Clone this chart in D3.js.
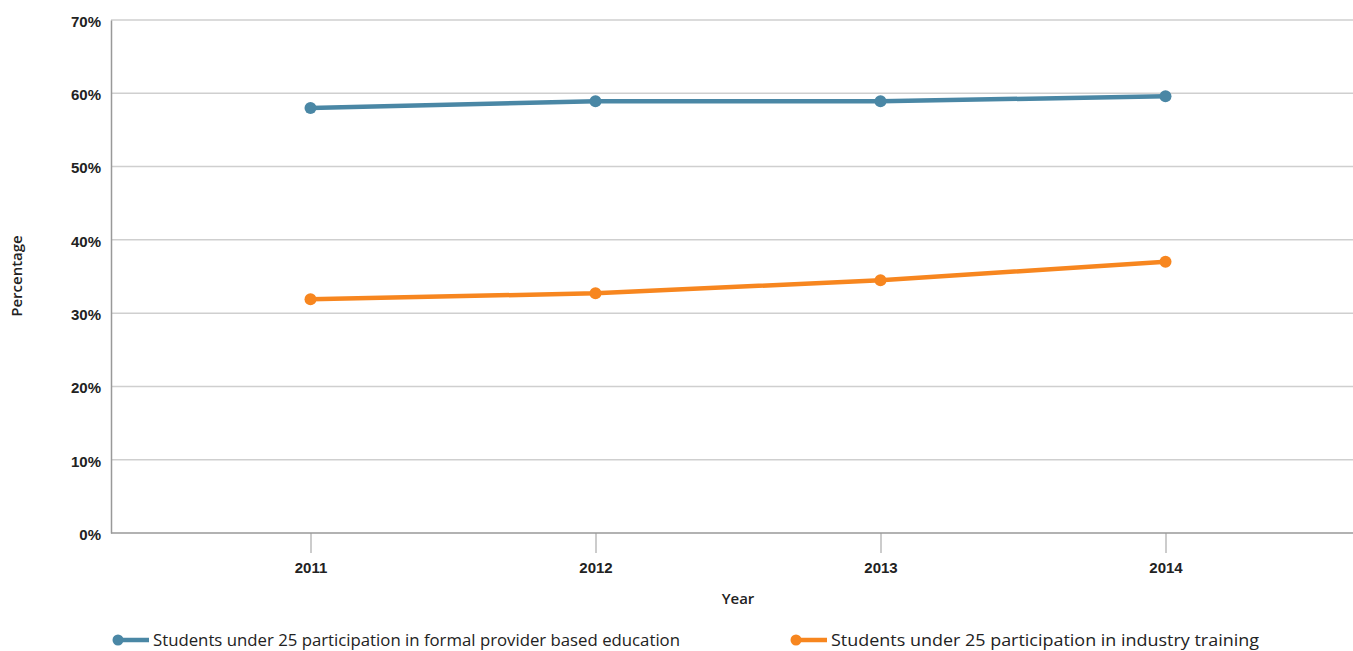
<!DOCTYPE html>
<html>
<head>
<meta charset="utf-8">
<script src="https://d3js.org/d3.v7.min.js"></script>
<style>
  html, body { margin: 0; padding: 0; background: #fff; }
  svg { display: block; font-family: "Open Sans", "Noto Sans", sans-serif; }
</style>
</head>
<body>
<svg id="chart" width="1353" height="651"></svg>
<script>
// Participation rates of students under 25, by year
const years = ["2011", "2012", "2013", "2014"];
const formalEducation = [58.0, 58.9, 58.9, 59.6];
const industryTraining = [31.9, 32.7, 34.5, 37.0];
const yTicks = [0, 10, 20, 30, 40, 50, 60, 70];
const seriesNames = [
  "Students under 25 participation in formal provider based education",
  "Students under 25 participation in industry training"
];
const seriesColors = ["#4a87a5", "#f7861f"];

const svg = d3.select("#chart");
const plotLeft = 111, plotTop = 20, plotBottom = 533, plotRight = 1365;

const x = d3.scalePoint().domain(years).range([plotLeft, plotRight]).padding(0.7);
const y = d3.scaleLinear().domain([0, 70]).range([plotBottom, plotTop]);

// horizontal gridlines
svg.append("g")
  .selectAll("line")
  .data(yTicks.filter(t => t > 0))
  .join("line")
  .attr("x1", plotLeft).attr("x2", 1353)
  .attr("y1", d => y(d)).attr("y2", d => y(d))
  .attr("stroke", "#cfcfcf").attr("stroke-width", 1.5);

// y axis
const yAxis = svg.append("g")
  .attr("transform", `translate(${plotLeft},0)`)
  .call(d3.axisLeft(y).tickValues(yTicks).tickFormat(d => d + "%").tickSize(0).tickPadding(10));
yAxis.select(".domain").attr("stroke", "#999").attr("stroke-width", 1.5);
yAxis.selectAll("text").attr("font-size", 15).attr("font-weight", 600).attr("fill", "#222")
  .attr("dy", "0.42em");

// x axis
const xAxis = svg.append("g")
  .attr("transform", `translate(0,${plotBottom})`)
  .call(d3.axisBottom(x).tickSize(20).tickPadding(9));
xAxis.select(".domain").attr("d", `M${plotLeft},0H1353`).attr("stroke", "#999").attr("stroke-width", 1.5);
xAxis.selectAll(".tick line").attr("stroke", "#999");
xAxis.selectAll("text").attr("font-size", 15).attr("font-weight", 600).attr("fill", "#222");

// axis titles
svg.append("text")
  .attr("x", 738).attr("y", 604)
  .attr("text-anchor", "middle").attr("font-size", 15).attr("font-weight", 600).attr("fill", "#222")
  .text("Year");
svg.append("text")
  .attr("transform", "translate(22,276) rotate(-90)")
  .attr("text-anchor", "middle").attr("font-size", 15).attr("font-weight", 600).attr("fill", "#222")
  .text("Percentage");

// series lines and markers
const series = [formalEducation, industryTraining];
const line = d3.line().x((d, i) => x(years[i])).y(d => y(d));
series.forEach((vals, s) => {
  svg.append("path")
    .datum(vals)
    .attr("d", line)
    .attr("fill", "none")
    .attr("stroke", seriesColors[s])
    .attr("stroke-width", 4.5);
  svg.append("g")
    .selectAll("circle")
    .data(vals)
    .join("circle")
    .attr("cx", (d, i) => x(years[i]))
    .attr("cy", d => y(d))
    .attr("r", 6)
    .attr("fill", seriesColors[s]);
});

// legend
const legendX = [113, 791];
const legendWidths = [527, 428];
seriesNames.forEach((name, s) => {
  const g = svg.append("g").attr("transform", `translate(${legendX[s]},640)`);
  g.append("line").attr("x1", 4).attr("x2", 36).attr("y1", 0).attr("y2", 0)
    .attr("stroke", seriesColors[s]).attr("stroke-width", 4.5);
  g.append("circle").attr("cx", 5).attr("cy", 0).attr("r", 5.5).attr("fill", seriesColors[s]);
  g.append("text").attr("x", 40).attr("y", 6).attr("font-size", 17).attr("fill", "#222")
    .attr("textLength", legendWidths[s]).attr("lengthAdjust", "spacingAndGlyphs")
    .text(name);
});
</script>
</body>
</html>
